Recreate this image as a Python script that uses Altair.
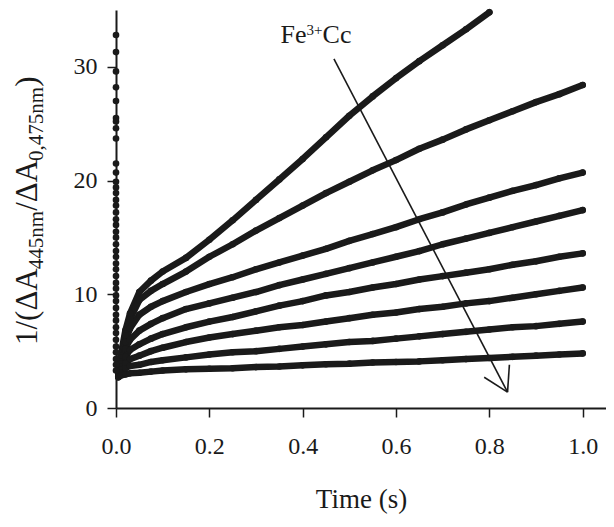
import altair as alt
import pandas as pd

FONT = "Liberation Serif"
INK = "#1a1a1a"

# ---------------- data ----------------
times = [0.005, 0.01, 0.02, 0.03, 0.05, 0.075, 0.1, 0.15, 0.2, 0.25, 0.3, 0.35,
         0.4, 0.45, 0.5, 0.55, 0.6, 0.65, 0.7, 0.75, 0.8, 0.85, 0.9, 0.95, 1.0]

curve1 = [3.2, 4.6, 6.8, 8.3, 10.2, 11.2, 12.0, 13.2, 14.8, 16.5, 18.3, 20.1,
          21.9, 23.8, 25.7, 27.4, 29.0, 30.5, 31.9, 33.3, 34.8]
curve2 = [3.1, 4.4, 6.4, 7.8, 9.5, 10.3, 10.9, 12.0, 13.3, 14.4, 15.6, 16.7,
          17.8, 18.9, 19.9, 20.9, 21.8, 22.8, 23.6, 24.5, 25.3, 26.1, 26.9, 27.6, 28.4]
curve3 = [3.0, 4.1, 5.8, 7.0, 8.2, 8.9, 9.4, 10.2, 10.9, 11.5, 12.2, 12.8,
          13.4, 14.0, 14.7, 15.3, 15.9, 16.6, 17.2, 17.9, 18.5, 19.1, 19.6, 20.2, 20.7]
curve4 = [2.9, 3.9, 5.2, 6.0, 6.8, 7.4, 7.9, 8.7, 9.2, 9.7, 10.2, 10.8,
          11.3, 11.8, 12.3, 12.8, 13.3, 13.8, 14.4, 14.9, 15.4, 15.9, 16.4, 16.9, 17.4]
curve5 = [2.9, 3.6, 4.5, 5.1, 5.6, 6.1, 6.5, 7.1, 7.6, 8.0, 8.5, 9.0,
          9.4, 9.9, 10.2, 10.6, 10.9, 11.3, 11.6, 11.9, 12.2, 12.6, 12.9, 13.3, 13.6]
curve6 = [2.8, 3.4, 3.9, 4.3, 4.6, 5.0, 5.3, 5.8, 6.2, 6.5, 6.8, 7.1,
          7.3, 7.6, 7.9, 8.2, 8.4, 8.7, 8.9, 9.2, 9.4, 9.7, 10.0, 10.3, 10.6]
curve7 = [2.8, 3.1, 3.5, 3.7, 3.8, 4.05, 4.2, 4.45, 4.7, 4.9, 5.0, 5.2,
          5.4, 5.6, 5.8, 5.9, 6.1, 6.3, 6.5, 6.7, 6.9, 7.1, 7.2, 7.4, 7.6]
curve8 = [2.7, 2.85, 2.95, 3.05, 3.1, 3.2, 3.3, 3.4, 3.45, 3.5, 3.6, 3.65,
          3.75, 3.85, 3.9, 4.0, 4.05, 4.1, 4.2, 4.3, 4.4, 4.5, 4.6, 4.7, 4.8]

# points stacked at t = 0 (dead-time points of all traces)
t0_values = [32.8, 31.3, 29.6, 28.2, 27.0, 25.5, 25.2, 24.6, 23.7, 21.5, 20.7, 19.9,
             19.4, 18.9, 18.3, 17.8, 17.2, 16.6, 16.1, 15.5, 15.0, 14.4, 13.8, 13.3,
             12.7, 12.2, 11.6, 11.0, 10.5, 9.9, 9.4, 8.8, 8.2, 7.7, 7.1, 6.6, 6.0,
             5.4, 4.9, 4.3, 3.8, 3.3]

x_ticks = [0.0, 0.2, 0.4, 0.6, 0.8, 1.0]
y_ticks = [0, 10, 20, 30]

# annotation arrow (data units): shaft and the two head strokes
arrow_t = [0.467, 0.789, 0.843]
arrow_v = [30.7, 2.7, 3.8]
arrow_t2 = [0.839, 0.839, 0.839]
arrow_v2 = [1.4, 1.4, 1.4]
label_t = [0.3527]
label_v = [32.1]

# ---------------- tables ----------------
curves = [curve1, curve2, curve3, curve4, curve5, curve6, curve7, curve8]
rows = []
for i, c in enumerate(curves):
    for t, v in zip(times, c):
        rows.append({"curve": f"c{i+1}", "t": t, "v": v})
df = pd.DataFrame(rows)
df0 = pd.DataFrame({"t": [0.0] * len(t0_values), "v": t0_values})
df_arrow = pd.DataFrame({"t": arrow_t, "v": arrow_v, "t2": arrow_t2, "v2": arrow_v2})
df_label = pd.DataFrame({"t": label_t, "v": label_v})

xscale = alt.Scale(domain=[0, 1.05], nice=False, zero=False)
yscale = alt.Scale(domain=[0, 35], nice=False)
xaxis = alt.Axis(values=x_ticks, format=".1f", labelFlush=False,
                 title="Time (s)", titleY=99, titleBaseline="alphabetic",
                 labelPadding=17, grid=False)
yaxis = alt.Axis(values=y_ticks, format="d", title="", labelPadding=10,
                 labelFlush=False, grid=False)
X = alt.X("t:Q", scale=xscale, axis=xaxis)
Y = alt.Y("v:Q", scale=yscale, axis=yaxis)

lines = alt.Chart(df).mark_line(color=INK, strokeWidth=6.5, strokeCap="round",
                                strokeJoin="round").encode(x=X, y=Y, detail="curve:N")
dots = alt.Chart(df).mark_circle(color=INK, size=44, opacity=1).encode(x=X, y=Y)
col = alt.Chart(df0).mark_circle(color=INK, size=44, opacity=1).encode(x=X, y=Y)
arrow = alt.Chart(df_arrow).mark_rule(color=INK, strokeWidth=1.6).encode(
    x=X, y=Y, x2="t2:Q", y2="v2:Q")


def ann(text, size, dx, dy):
    return alt.Chart(df_label).mark_text(
        text=text, font=FONT, fontSize=size, color=INK, align="left",
        baseline="alphabetic", dx=dx, dy=dy).encode(x=X, y=Y)


label_layers = [ann("Fe", 26, 0, 0), ann("3+", 15, 26, -8), ann("Cc", 26, 42, 0)]

# y-axis title built from segments (rotated, reading upward) with subscripts
widths = {"1": 0.5, "/": 0.278, "(": 0.333, ")": 0.333, "Δ": 0.612, "A": 0.722,
          "4": 0.5, "5": 0.5, "7": 0.5, "0": 0.5, ",": 0.25, "n": 0.5, "m": 0.778}
segments = [("1/(ΔA", 31, False), ("445nm", 21, True), ("/ΔA", 31, False),
            ("0,475nm", 21, True), (")", 31, False)]
ytitle_layers = []
ypos = 335.0  # start (bottom) of the title in plot coordinates
for txt, size, sub in segments:
    w = sum(widths[ch] for ch in txt) * size
    ytitle_layers.append(
        alt.Chart(pd.DataFrame({"s": [txt]})).mark_text(
            font=FONT, fontSize=size, color=INK, angle=270, align="left",
            baseline="alphabetic").encode(
            x=alt.value(-73 if sub else -79), y=alt.value(ypos), text="s:N"))
    ypos -= w

chart = alt.layer(lines, dots, col, arrow, *label_layers, *ytitle_layers).properties(
    width=490, height=398,
    autosize=alt.AutoSizeParams(type="none"),
    padding={"left": 108, "top": 2, "right": 0, "bottom": 115},
).configure_axis(
    labelFont=FONT, labelFontSize=24, labelColor=INK,
    titleFont=FONT, titleFontSize=27, titleFontWeight="normal", titleColor=INK,
    domainColor=INK, domainWidth=2, tickColor=INK, tickWidth=1.5, tickSize=9,
).configure_view(strokeWidth=0)

chart.save("out.html", embed_options={"renderer": "svg", "actions": False})
